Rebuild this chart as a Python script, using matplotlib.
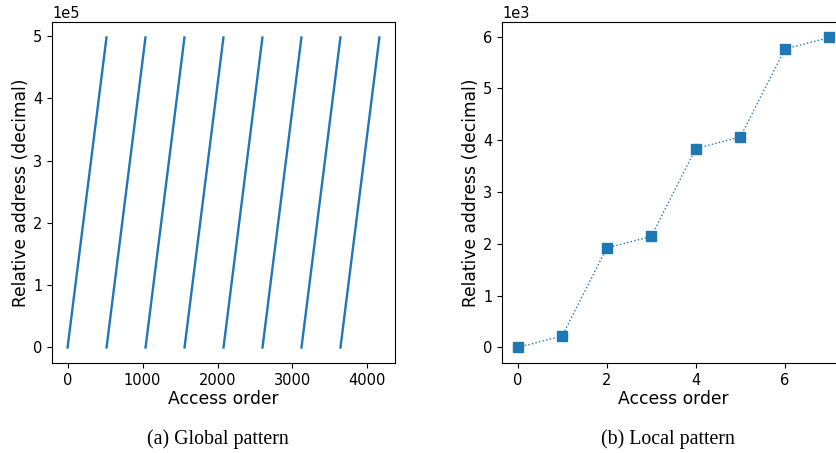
import numpy as np
from matplotlib import pyplot as plt

# global pattern: each sweep runs from the low address to the high one
seg_start = [0, 520, 1040, 1560, 2080, 2600, 3120, 3640]
seg_end = [519, 1039, 1559, 2079, 2599, 3119, 3639, 4159]
addr_low = 0
addr_high = 498000

# local pattern
local_x = [0, 1, 2, 3, 4, 5, 6, 7]
local_y = [0, 224, 1920, 2144, 3840, 4064, 5760, 5984]

tick_fs = 10.5
label_fs = 12.3
color = "#1f77b4"

fig = plt.figure(figsize=(8.37, 4.53), dpi=100)

#Global pattern
ax1 = fig.add_axes([0.0621, 0.1987, 0.4098, 0.7528])
for x0, x1 in zip(seg_start, seg_end):
    ax1.plot([x0, x1], [addr_low, addr_high], color=color, lw=1.7)
ax1.set_xlabel("Access order", fontsize=label_fs, labelpad=2)
ax1.set_ylabel("Relative address (decimal)", fontsize=label_fs, labelpad=2)
ax1.ticklabel_format(axis="y", style="sci", scilimits=(0, 0))
ax1.yaxis.get_offset_text().set_fontsize(tick_fs)
ax1.tick_params(labelsize=tick_fs)
ax1.set_xticks([0, 1000, 2000, 3000, 4000])

#Local pattern (axes extend past the right edge, as in the cropped original)
ax2 = fig.add_axes([0.5998, 0.1987, 0.4098, 0.7528])
ax2.plot(local_x, local_y, color=color, ls=":", lw=1.0, marker="s", markersize=6.5)
ax2.set_xlabel("Access order", fontsize=label_fs, labelpad=2)
ax2.set_ylabel("Relative address (decimal)", fontsize=label_fs, labelpad=2)
ax2.ticklabel_format(axis="y", style="sci", scilimits=(0, 0))
ax2.yaxis.get_offset_text().set_fontsize(tick_fs)
ax2.tick_params(labelsize=tick_fs)
ax2.set_xticks([0, 2, 4, 6])

fig.text(0.2605, 0.0309, "(a) Global pattern", family="Liberation Serif",
         fontsize=14.3, ha="center", va="center")
fig.text(0.798, 0.0309, "(b) Local pattern", family="Liberation Serif",
         fontsize=14.3, ha="center", va="center")

fig.savefig("out.png", dpi=100)
